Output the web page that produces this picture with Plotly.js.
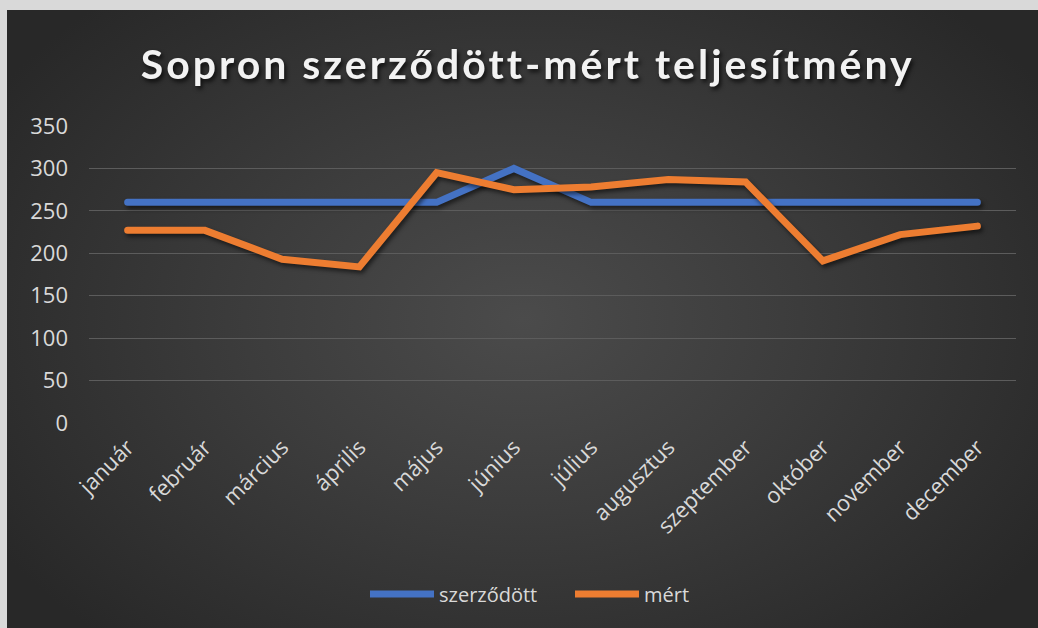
<!DOCTYPE html>
<html>
<head>
<meta charset="utf-8">
<script src="https://cdn.plot.ly/plotly-3.0.1.min.js"></script>
<style>
  html, body { margin: 0; padding: 0; background: #d9d9d9; width: 1038px; height: 628px; overflow: hidden; }
  #chart {
    position: absolute; left: 7px; top: 10px; width: 1031px; height: 618px;
    background: radial-gradient(ellipse 60% 70% at 50% 50%, #4b4b4b 0%, #3c3c3c 45%, #282828 100%);
  }
  #chart .gtitle { letter-spacing: 3px; filter: drop-shadow(2px 3px 2px rgba(0,0,0,0.7)); }
  #chart .scatterlayer .js-line { filter: drop-shadow(2px 3px 2px rgba(0,0,0,0.55)); stroke-linecap: round; }
</style>
</head>
<body>
<div id="chart"></div>
<script>
const months = ["január","február","március","április","május","június","július","augusztus","szeptember","október","november","december"];
const szerzodott = [260,260,260,260,260,300,260,260,260,260,260,260];
const mert = [227,227,193,184,295,275,278,287,284,191,222,232];
const yTicks = [0,50,100,150,200,250,300,350];

const font = "'Open Sans', 'DejaVu Sans', sans-serif";
const traces = [
  { x: months, y: szerzodott, name: "szerződött", type: "scatter", mode: "lines",
    line: { color: "#4472c4", width: 7 } },
  { x: months, y: mert, name: "mért", type: "scatter", mode: "lines",
    line: { color: "#ed7d31", width: 7 } }
];
const layout = {
  width: 1031, height: 618,
  paper_bgcolor: "rgba(0,0,0,0)", plot_bgcolor: "rgba(0,0,0,0)",
  margin: { l: 82, r: 22, t: 116, b: 205 },
  title: { text: "<b>Sopron szerződött-mért teljesítmény</b>",
    font: { family: "Lato, 'Open Sans', sans-serif", size: 41, color: "#f2f2f2" },
    x: 0.505, xanchor: "center", y: 1 - 55/618, yanchor: "middle", xref: "container", yref: "container" },
  xaxis: { type: "category", range: [-0.5, 11.5], tickangle: -45, showgrid: false, zeroline: false,
    showline: false, ticks: "", ticklabelstandoff: 6, tickfont: { family: font, size: 22, color: "#d9d9d9" } },
  yaxis: { range: [0, 350], tickvals: yTicks, ticktext: yTicks.map(String), showgrid: true,
    gridcolor: "#5c5c5c", gridwidth: 1, zeroline: false, showline: false, ticks: "",
    ticklabelstandoff: 20, tickfont: { family: font, size: 22, color: "#d9d9d9" } },
  showlegend: true,
  legend: { orientation: "h", xref: "container", x: 358/1031, xanchor: "left",
    yref: "container", y: 1 - 584/618, yanchor: "middle", entrywidth: 126,
    font: { family: font, size: 20, color: "#d9d9d9" }, bgcolor: "rgba(0,0,0,0)", itemwidth: 64 }
};
Plotly.newPlot("chart", traces, layout, { displayModeBar: false, staticPlot: true });
</script>
</body>
</html>
